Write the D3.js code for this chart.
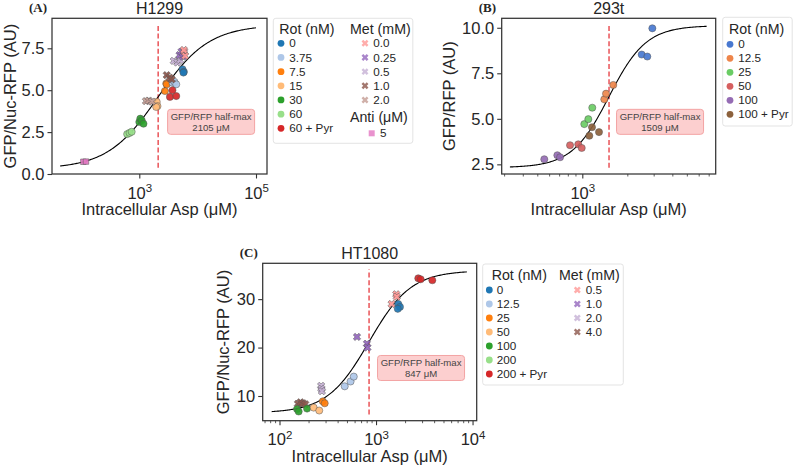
<!DOCTYPE html>
<html><head><meta charset="utf-8">
<script src="https://cdn.jsdelivr.net/npm/d3@7"></script>
<style>
html,body{margin:0;padding:0;background:#fff;}
svg{display:block;}
</style>
</head><body>
<svg id="chart" width="793" height="471"></svg>
<script>
// ---------------- DATA ----------------
// Panel A: H1299  [group, intracellular Asp (uM), GFP/Nuc-RFP]
const h1299RotLevels = ["0", "3.75", "7.5", "15", "30", "60", "60 + Pyr"];
const h1299MetLevels = ["0.0", "0.25", "0.5", "1.0", "2.0"];
const h1299AntiLevels = ["5"];
const h1299Rot = [
  ["60", 620, 2.38], ["60", 680, 2.45], ["60", 740, 2.52],
  ["30", 1000, 3.1], ["30", 1040, 3.3], ["30", 1100, 3.2], ["30", 1180, 3.0],
  ["15", 1990, 4.3], ["15", 2050, 4.05], ["15", 1950, 4.0],
  ["7.5", 2750, 4.95], ["7.5", 2900, 5.4], ["7.5", 2950, 5.35],
  ["3.75", 3700, 5.45], ["3.75", 4000, 5.5], ["3.75", 4300, 5.35],
  ["60 + Pyr", 3350, 4.6], ["60 + Pyr", 4300, 4.65], ["60 + Pyr", 3700, 5.0],
  ["0", 5500, 6.25], ["0", 5800, 6.1], ["0", 5700, 6.05]
];
const h1299Met = [
  ["2.0", 1300, 4.35], ["2.0", 1450, 4.38], ["2.0", 1650, 4.32],
  ["1.0", 2950, 5.9], ["1.0", 3300, 5.75], ["1.0", 3600, 5.65],
  ["0.5", 3900, 6.75], ["0.5", 4500, 6.65], ["0.5", 5000, 6.8],
  ["0.25", 4900, 7.1], ["0.25", 5300, 7.3], ["0.25", 5600, 7.0],
  ["0.0", 5900, 7.3], ["0.0", 6100, 7.05], ["0.0", 5800, 7.4]
];
const h1299Anti = [["5", 110, 0.73], ["5", 122, 0.74]];
const h1299Fit = [0.3, 8.9, 2105, 1.0];       // bottom, top, half-max, hill n
const h1299FitRange = [44, 100000];

// Panel B: 293t
const t293Levels = ["0", "12.5", "25", "50", "100", "100 + Pyr"];
const t293Rot = [
  ["100", 557, 2.78], ["100", 681, 3.0], ["100", 710, 2.89],
  ["50", 828, 3.55], ["50", 940, 3.6], ["50", 991, 3.4],
  ["25", 1031, 4.71], ["25", 1097, 4.98], ["25", 1166, 5.61],
  ["100 + Pyr", 1114, 4.07], ["100 + Pyr", 1161, 4.54], ["100 + Pyr", 1293, 4.27],
  ["12.5", 1403, 6.07], ["12.5", 1441, 6.38], ["12.5", 1611, 6.86],
  ["0", 2495, 8.53], ["0", 2720, 8.42], ["0", 2940, 9.97]
];
const t293Fit = [2.32, 10.12, 1509, 3.5];
const t293FitRange = [328, 6790];

// Panel C: HT1080
const ht1080RotLevels = ["0", "12.5", "25", "50", "100", "200", "200 + Pyr"];
const ht1080MetLevels = ["0.5", "1.0", "2.0", "4.0"];
const ht1080Rot = [
  ["100", 152, 7.3], ["100", 158, 6.8], ["100", 193, 7.4],
  ["50", 226, 7.6], ["50", 258, 7.0],
  ["25", 281, 8.9], ["25", 294, 8.5],
  ["12.5", 474, 12.0], ["12.5", 545, 13.0], ["12.5", 588, 14.0],
  ["0", 1700, 29.0], ["0", 1770, 28.4], ["0", 1680, 28.0],
  ["200 + Pyr", 2740, 34.3], ["200 + Pyr", 2900, 34.1], ["200 + Pyr", 3830, 33.9]
];
const ht1080Met = [
  ["4.0", 155, 8.4], ["4.0", 165, 8.7], ["4.0", 175, 8.5], ["4.0", 185, 8.3],
  ["2.0", 270, 12.1], ["2.0", 272, 11.5], ["2.0", 275, 11.0],
  ["1.0", 635, 22.2], ["1.0", 805, 20.8], ["1.0", 815, 20.0],
  ["0.5", 1450, 29.0], ["0.5", 1620, 31.0], ["0.5", 1640, 30.5]
];
const ht1080Fit = [6.5, 35.9, 847, 2.0];
const ht1080FitRange = [83, 8710];

// tick values
const h1299XTicks = [1e3, 1e5];
const h1299YTicks = [0, 2.5, 5, 7.5];
const t293XTicks = [1e3];
const t293YTicks = [2.5, 5, 7.5, 10];
const ht1080XTicks = [1e2, 1e3, 1e4];
const ht1080YTicks = [10, 20, 30];

// colours
const tabRot = ["#1f77b4", "#aec7e8", "#ff7f0e", "#ffbb78", "#2ca02c", "#98df8a", "#d62728"];
const tabMetA = ["#ff9896", "#9467bd", "#c5b0d5", "#8c564b", "#c49c94"];
const tabMetC = ["#ff9896", "#9467bd", "#c5b0d5", "#8c564b"];
const antiColor = ["#e377c2"];
const mutedRot = ["#4878d0", "#ee854a", "#6acc64", "#d65f5f", "#956cb4", "#8c613c"];

// ---------------- DRAW ----------------
const FONT = "'Liberation Sans', Arial, Helvetica, sans-serif";
const TXT = "#262626";
const svg = d3.select("#chart");

function hill(p, x) { return p[0] + (p[1] - p[0]) / (1 + Math.pow(p[2] / x, p[3])); }

function drawPanel(cfg) {
  const g = svg.append("g");
  const x = d3.scaleLog().domain(cfg.xDomain).range([cfg.box[0], cfg.box[1]]);
  const y = d3.scaleLinear().domain(cfg.yDomain).range([cfg.box[3], cfg.box[2]]);
  const [L, R, T, B] = cfg.box;

  // minor ticks
  const lo = Math.floor(Math.log10(cfg.xDomain[0])), hi = Math.ceil(Math.log10(cfg.xDomain[1]));
  const minors = [];
  if (cfg.minor) {
    for (let e = lo; e <= hi; e++) for (let k = 2; k <= 9; k++) {
      const v = k * Math.pow(10, e);
      if (v >= cfg.xDomain[0] && v <= cfg.xDomain[1]) minors.push(v);
    }
  }
  const minorAxis = g.append("g").attr("transform", `translate(0,${B})`)
    .call(d3.axisBottom(x).tickValues(minors).tickSize(2.5).tickFormat(""));
  minorAxis.select(".domain").remove();
  minorAxis.selectAll("line").attr("stroke", "#333").attr("stroke-width", 0.8);

  const xAxis = g.append("g").attr("transform", `translate(0,${B})`)
    .call(d3.axisBottom(x).tickValues(cfg.xTicks).tickSize(4.5).tickFormat(""));
  xAxis.select(".domain").remove();
  xAxis.selectAll("line").attr("stroke", "#333").attr("stroke-width", 1.1);
  xAxis.selectAll(".tick").each(function (d) {
    const t = d3.select(this).append("text")
      .attr("y", 24.5).attr("fill", TXT).attr("text-anchor", "middle")
      .attr("font-family", FONT).attr("font-size", 16.5);
    t.append("tspan").text("10");
    t.append("tspan").attr("dy", "-0.55em").attr("font-size", 11.5).text(Math.round(Math.log10(d)));
  });

  const yAxis = g.append("g").attr("transform", `translate(${L},0)`)
    .call(d3.axisLeft(y).tickValues(cfg.yTicks).tickSize(4.5).tickPadding(3)
      .tickFormat(cfg.yFormat));
  yAxis.select(".domain").remove();
  yAxis.selectAll("line").attr("stroke", "#333").attr("stroke-width", 1.1);
  yAxis.selectAll("text").attr("font-family", FONT).attr("font-size", 16.5).attr("fill", TXT);

  // frame
  g.append("rect").attr("x", L).attr("y", T).attr("width", R - L).attr("height", B - T)
    .attr("fill", "none").attr("stroke", "#333").attr("stroke-width", 1.25);

  // dashed half-max line
  g.append("line").attr("x1", x(cfg.fit[2])).attr("x2", x(cfg.fit[2]))
    .attr("y1", B - 0.04 * (B - T)).attr("y2", T + 0.04 * (B - T))
    .attr("stroke", "#e8474c").attr("stroke-width", 1.4).attr("stroke-dasharray", "5,2.6");

  // fitted curve
  const n = 200, lx0 = Math.log10(cfg.fitRange[0]), lx1 = Math.log10(cfg.fitRange[1]);
  const curve = d3.range(n + 1).map(i => { const xv = Math.pow(10, lx0 + (lx1 - lx0) * i / n); return [xv, hill(cfg.fit, xv)]; });
  g.append("path").datum(curve)
    .attr("d", d3.line().x(d => x(d[0])).y(d => y(d[1])))
    .attr("fill", "none").attr("stroke", "#000").attr("stroke-width", 1.1);

  // markers
  cfg.series.forEach(s => {
    const col = d3.scaleOrdinal().domain(s.levels).range(s.colors);
    const sym = d3.symbol().type(s.shape === "x" ? d3.symbolCross : s.shape === "sq" ? d3.symbolSquare : d3.symbolCircle)
      .size(s.shape === "x" ? 34 : s.shape === "sq" ? 30 : 40);
    g.append("g").selectAll("path").data(s.data).join("path")
      .attr("d", sym)
      .attr("transform", d => `translate(${x(d[1])},${y(d[2])})` + (s.shape === "x" ? " rotate(45)" : ""))
      .attr("fill", d => col(d[0])).attr("fill-opacity", 0.92)
      .attr("stroke", "#555").attr("stroke-width", 0.5);
  });

  // half-max box
  const bx = L + 0.74 * (R - L), by = B - 0.335 * (B - T);
  g.append("rect").attr("x", bx - 43.5).attr("y", by - 12.5).attr("width", 87).attr("height", 25)
    .attr("rx", 3).attr("fill", "#fccfcf").attr("stroke", "#f3a3a3").attr("stroke-width", 1);
  g.append("text").attr("x", bx).attr("y", by - 1.5).attr("text-anchor", "middle")
    .attr("font-family", FONT).attr("font-size", 9.6).attr("fill", "#444").text("GFP/RFP half-max");
  g.append("text").attr("x", bx).attr("y", by + 9.5).attr("text-anchor", "middle")
    .attr("font-family", FONT).attr("font-size", 9.6).attr("fill", "#444").text(cfg.halfLabel);

  // titles & labels
  g.append("text").attr("x", (L + R) / 2).attr("y", cfg.titleY).attr("text-anchor", "middle")
    .attr("font-family", FONT).attr("font-size", 16).attr("fill", TXT).text(cfg.title);
  g.append("text").attr("x", L - 23).attr("y", cfg.letterY)
    .attr("font-family", "'Liberation Serif', 'Times New Roman', serif").attr("font-weight", "bold")
    .attr("font-size", 13).attr("fill", TXT).text(cfg.letter);
  g.append("text").attr("x", (L + R) / 2).attr("y", B + 41).attr("text-anchor", "middle")
    .attr("font-family", FONT).attr("font-size", 16.5).attr("fill", TXT).text("Intracellular Asp (μM)");
  g.append("text").attr("transform", `translate(${cfg.yLabelX},${(T + B) / 2}) rotate(-90)`)
    .attr("text-anchor", "middle").attr("dy", "0.35em")
    .attr("font-family", FONT).attr("font-size", 16.5).attr("fill", TXT).text(cfg.yLabel);
}

function drawLegend(lg) {
  const g = svg.append("g");
  g.append("rect").attr("x", lg.box[0]).attr("y", lg.box[1]).attr("width", lg.box[2]).attr("height", lg.box[3])
    .attr("rx", 2.5).attr("fill", "#fff").attr("fill-opacity", 0.8).attr("stroke", "#dcdcdc").attr("stroke-width", 0.8);
  lg.groups.forEach(grp => {
    g.append("text").attr("x", grp.titleX).attr("y", grp.titleY).attr("dy", "0.35em")
      .attr("font-family", FONT).attr("font-size", 14.2).attr("fill", TXT).text(grp.title);
    const sym = d3.symbol().type(grp.shape === "x" ? d3.symbolCross : grp.shape === "sq" ? d3.symbolSquare : d3.symbolCircle)
      .size(grp.shape === "x" ? 30 : 36);
    grp.levels.forEach((lev, i) => {
      const yy = grp.rowY + i * grp.step;
      g.append("path").attr("d", sym)
        .attr("transform", `translate(${grp.markX},${yy})` + (grp.shape === "x" ? " rotate(45)" : ""))
        .attr("fill", grp.colors[i]).attr("fill-opacity", grp.shape === "x" || grp.shape === "sq" ? 0.8 : 1);
      g.append("text").attr("x", grp.textX).attr("y", yy).attr("dy", "0.35em")
        .attr("font-family", FONT).attr("font-size", 11.7).attr("fill", TXT).text(lev);
    });
  });
}

const fmt1 = d3.format(".1f");
drawPanel({
  box: [52, 267, 18.3, 174], xDomain: [Math.pow(10, 1.504), Math.pow(10, 5.1885)], yDomain: [0, 9.29],
  xTicks: h1299XTicks, yTicks: h1299YTicks, yFormat: fmt1, minor: false,
  fit: h1299Fit, fitRange: h1299FitRange, halfLabel: "2105 μM",
  title: "H1299", letter: "(A)", titleY: 13.5, letterY: 11.7, yLabel: "GFP/Nuc-RFP (AU)", yLabelX: 10,
  series: [
    { data: h1299Rot, levels: h1299RotLevels, colors: tabRot, shape: "o" },
    { data: h1299Met, levels: h1299MetLevels, colors: tabMetA, shape: "x" },
    { data: h1299Anti, levels: h1299AntiLevels, colors: antiColor, shape: "sq" }
  ]
});
drawPanel({
  box: [501.7, 715.7, 18.3, 174], xDomain: [Math.pow(10, 2.461), Math.pow(10, 3.892)], yDomain: [1.97, 10.52],
  xTicks: t293XTicks, yTicks: t293YTicks, yFormat: fmt1, minor: true,
  fit: t293Fit, fitRange: t293FitRange, halfLabel: "1509 μM",
  title: "293t", letter: "(B)", titleY: 13.5, letterY: 11.7, yLabel: "GFP/RFP (AU)", yLabelX: 449,
  series: [{ data: t293Rot, levels: t293Levels, colors: mutedRot, shape: "o" }]
});
drawPanel({
  box: [262.7, 476.7, 263.3, 420.7], xDomain: [Math.pow(10, 1.826), Math.pow(10, 4.043)], yDomain: [4.9, 37.4],
  xTicks: ht1080XTicks, yTicks: ht1080YTicks, yFormat: d3.format("d"), minor: true,
  fit: ht1080Fit, fitRange: ht1080FitRange, halfLabel: "847 μM",
  title: "HT1080", letter: "(C)", titleY: 258.5, letterY: 256.7, yLabel: "GFP/Nuc-RFP (AU)", yLabelX: 223.3,
  series: [
    { data: ht1080Met, levels: ht1080MetLevels, colors: tabMetC, shape: "x" },
    { data: ht1080Rot, levels: ht1080RotLevels, colors: tabRot, shape: "o" }
  ]
});

drawLegend({
  box: [273.3, 18.3, 139.5, 125],
  groups: [
    { title: "Rot (nM)", titleX: 279.3, titleY: 29, levels: h1299RotLevels, colors: tabRot, shape: "o", markX: 281, textX: 289.3, rowY: 43.3, step: 14.17 },
    { title: "Met (mM)", titleX: 350, titleY: 29, levels: h1299MetLevels, colors: tabMetA, shape: "x", markX: 365, textX: 373.3, rowY: 43.3, step: 14.17 },
    { title: "Anti (μM)", titleX: 350, titleY: 116.7, levels: h1299AntiLevels, colors: antiColor, shape: "sq", markX: 371.7, textX: 380, rowY: 133.3, step: 14.17 }
  ]
});
drawLegend({
  box: [722.7, 17.3, 69.5, 108.7],
  groups: [
    { title: "Rot (nM)", titleX: 729, titleY: 29.3, levels: t293Levels, colors: mutedRot, shape: "o", markX: 730, textX: 738.3, rowY: 44.3, step: 14 }
  ]
});
drawLegend({
  box: [482.7, 264, 140.6, 121],
  groups: [
    { title: "Rot (nM)", titleX: 491.7, titleY: 275, levels: ht1080RotLevels, colors: tabRot, shape: "o", markX: 489.3, textX: 496.7, rowY: 290, step: 14 },
    { title: "Met (mM)", titleX: 559, titleY: 275, levels: ht1080MetLevels, colors: tabMetC, shape: "x", markX: 577.3, textX: 585.7, rowY: 290, step: 14 }
  ]
});
</script>
</body></html>
